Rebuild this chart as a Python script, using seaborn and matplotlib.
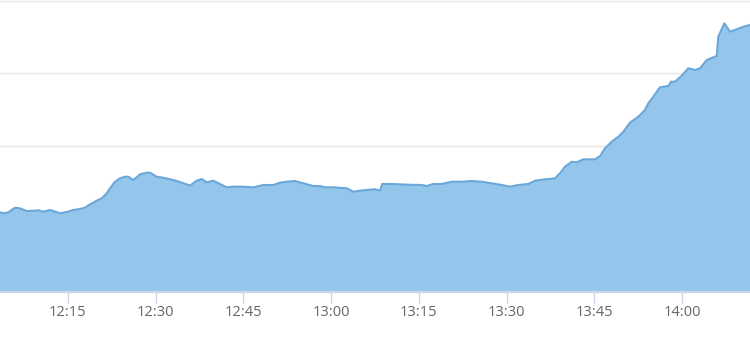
import matplotlib
matplotlib.use("Agg")
import matplotlib.pyplot as plt
import matplotlib.dates as mdates
import seaborn as sns
import pandas as pd

times = [
    "12:03:26", "12:04:00", "12:04:51", "12:06:00", "12:06:51", "12:08:00", "12:09:07", "12:10:00",
    "12:10:50", "12:12:00", "12:12:50", "12:13:48", "12:14:50", "12:15:57", "12:17:06", "12:17:57",
    "12:18:49", "12:19:57", "12:20:49", "12:21:40", "12:22:14", "12:23:05", "12:23:56", "12:24:47",
    "12:25:21", "12:26:12", "12:26:47", "12:27:21", "12:28:30", "12:29:04", "12:30:12", "12:31:20",
    "12:33:02", "12:34:29", "12:35:54", "12:37:02", "12:37:54", "12:38:45", "12:39:53", "12:41:01",
    "12:42:10", "12:43:18", "12:45:00", "12:46:43", "12:48:25", "12:50:08", "12:51:16", "12:52:25",
    "12:53:50", "12:55:15", "12:56:58", "12:58:06", "12:58:58", "13:00:23", "13:02:40", "13:03:48",
    "13:04:56", "13:06:05", "13:07:30", "13:08:21", "13:08:45", "13:10:21", "13:13:11", "13:15:29",
    "13:16:20", "13:17:28", "13:18:54", "13:20:36", "13:22:19", "13:24:01", "13:25:44", "13:27:26",
    "13:29:09", "13:30:34", "13:31:59", "13:33:42", "13:34:50", "13:36:33", "13:38:15", "13:39:07",
    "13:39:58", "13:41:07", "13:41:58", "13:43:05", "13:43:57", "13:45:05", "13:45:57", "13:46:48",
    "13:47:57", "13:49:04", "13:49:56", "13:51:04", "13:52:29", "13:53:38", "13:54:12", "13:55:03",
    "13:56:12", "13:57:37", "13:58:04", "13:58:45", "13:59:37", "14:01:02", "14:02:11", "14:03:02",
    "14:04:10", "14:05:35", "14:05:53", "14:06:09", "14:07:11", "14:08:09", "14:09:18", "14:10:26",
    "14:11:34",
]
values = [
    10.89, 10.76, 10.89, 11.53, 11.44, 11.07, 11.11, 11.17,
    10.98, 11.21, 10.98, 10.76, 10.94, 11.21, 11.35, 11.53,
    11.99, 12.49, 12.82, 13.51, 14.20, 15.10, 15.57, 15.79,
    15.79, 15.34, 15.71, 16.12, 16.34, 16.34, 15.79, 15.65,
    15.34, 14.97, 14.58, 15.24, 15.47, 15.02, 15.24, 14.79,
    14.33, 14.42, 14.42, 14.33, 14.65, 14.65, 14.97, 15.10,
    15.20, 14.88, 14.51, 14.51, 14.33, 14.33, 14.20, 13.73,
    13.87, 13.96, 14.06, 13.89, 14.79, 14.79, 14.69, 14.65,
    14.51, 14.79, 14.79, 15.10, 15.10, 15.20, 15.10, 14.88,
    14.65, 14.42, 14.65, 14.79, 15.24, 15.43, 15.57, 16.26,
    17.17, 17.85, 17.77, 18.18, 18.18, 18.18, 18.64, 19.70,
    20.61, 21.29, 21.98, 23.22, 24.04, 24.97, 25.89, 26.80,
    28.09, 28.27, 28.86, 28.86, 29.46, 30.70, 30.47, 30.70,
    31.84, 32.30, 32.39, 35.05, 36.89, 35.74, 36.07, 36.42,
    36.66,
]
tick_labels = ["12:15", "12:30", "12:45", "13:00", "13:15", "13:30", "13:45", "14:00"]
grid_values = [0, 10, 20, 30, 40]
day = "2024-01-02 "

sns.set_theme(style="white")
plt.rcParams['font.family'] = ['Open Sans', 'DejaVu Sans']

df = pd.DataFrame({"time": pd.to_datetime(day + pd.Series(times)), "value": values})
ticks = pd.to_datetime(day + pd.Series(tick_labels))

fig = plt.figure(figsize=(7.5, 3.51), dpi=100)
ax = fig.add_axes([0, 59.5 / 351, 1, 290.8 / 351])

ax.fill_between(df["time"], df["value"], 0, color="#94c6ec", linewidth=0, zorder=2)
sns.lineplot(data=df, x="time", y="value", color="#6ba7d9", linewidth=1.5, ax=ax, zorder=3)

ax.set_xlim(df["time"].iloc[0], df["time"].iloc[-1])
ax.set_ylim(grid_values[0], grid_values[-1])
ax.set_yticks(grid_values)
ax.set_yticklabels([])
ax.tick_params(axis="y", length=0)
ax.set_axisbelow(True)
ax.grid(axis="y", color="#e6e6e6", linewidth=1)
ax.grid(axis="x", visible=False)
for g in ax.get_ygridlines():
    g.set_clip_on(False)

ax.set_xticks(ticks)
ax.xaxis.set_major_formatter(mdates.DateFormatter("%H:%M"))
ax.tick_params(axis="x", bottom=True, length=8, width=1, color="#ccd6eb",
               labelcolor="#666666", labelsize=10.5, pad=2)

for s in ["top", "left", "right"]:
    ax.spines[s].set_visible(False)
ax.spines["bottom"].set_color("#c6d6e8")
ax.spines["bottom"].set_linewidth(1.5)
ax.spines["bottom"].set_zorder(4)

ax.set_xlabel("")
ax.set_ylabel("")

fig.savefig("out.png", dpi=100)
